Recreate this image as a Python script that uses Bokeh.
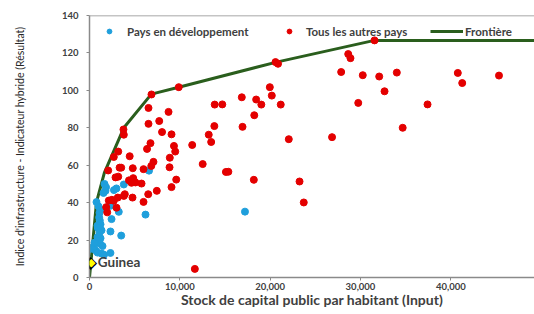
from bokeh.plotting import figure
from bokeh.models import (Range1d, FixedTicker, NumeralTickFormatter,
                          Legend, LegendItem, Span, Label)
from bokeh.embed import file_html
from bokeh.resources import INLINE

# ---- data ----
blue_x = [6590, 3800, 1660, 1830, 1770, 1550, 2710, 2980, 775, 1220, 1110, 2320, 3240, 6200,
          1070, 1140, 2440, 1220, 1330, 2320, 3510, 890, 1220, 1050, 1160, 1440, 110, 660,
          890, 1330, 1610, 2320, 17210, 440, 550, 890, 920, 1110, 1000]
blue_y = [57.1, 49.7, 50.0, 48.2, 46.3, 45.2, 46.7, 47.6, 40.3, 36.2, 34.6, 38.3, 35.1, 33.6,
          32.1, 30.5, 31.2, 28.4, 25.2, 24.6, 22.4, 21.6, 21.0, 19.7, 18.1, 16.8, 15.3, 14.6,
          13.3, 12.8, 12.2, 13.1, 35.2, 16.5, 18.6, 27.7, 26.5, 24.1, 38.0]

red_x = [31550, 28640, 28890, 20590, 20870, 27860, 30250, 32070, 34020, 40770, 41260, 45330,
         32660, 29750, 37420, 34670, 22060, 26850, 23250, 23720, 19960, 20180, 21170, 16860,
         18450, 19020, 13860, 14700, 9880, 6860, 8750, 6530, 7720, 6530, 18240, 13820, 16940,
         8030, 9080, 13200, 13470, 3760, 3800, 6750, 9350, 9490, 11370, 6370, 8890, 12530,
         15100, 15370, 18190, 9600, 9080, 11660, 3180, 4450, 2690, 7080, 6840, 2070, 3330,
         3510, 4790, 5980, 8860, 2880, 3180, 4840, 4370, 4650, 5090, 5760, 6500, 7450, 5980,
         4760, 3800, 3910, 3130, 2470, 2690, 2140, 1850, 1960, 2990]
red_y = [126.7, 119.4, 117.2, 115.1, 114.2, 109.8, 108.1, 107.4, 109.5, 109.3, 103.9, 107.9,
         99.5, 93.3, 92.5, 80.0, 73.9, 75.0, 51.3, 40.1, 101.7, 97.2, 92.4, 96.3,
         95.1, 92.4, 92.4, 92.5, 101.7, 97.8, 88.5, 90.6, 83.6, 82.1, 86.7, 80.9, 80.5,
         77.7, 76.5, 76.3, 72.4, 79.1, 76.3, 71.8, 70.3, 67.3, 70.8, 68.7, 64.0, 60.6,
         56.4, 56.5, 52.2, 52.3, 48.3, 4.6, 67.3, 64.8, 64.4, 61.8, 59.6, 57.2, 58.7,
         58.7, 58.4, 57.9, 58.9, 53.5, 53.9, 53.1, 51.9, 50.6, 50.8, 50.2, 44.5, 46.3, 40.4,
         42.7, 43.6, 44.5, 42.7, 41.5, 41.0, 41.1, 37.6, 34.8, 37.3]

frontier_x = [0, 775, 1650, 3800, 6850, 9880, 20700, 31550, 50000]
frontier_y = [0, 40.3, 56.0, 80.0, 98.0, 101.7, 115.1, 126.7, 126.7]

guinea_x = 150
guinea_y = 8.5
guinea_label = "Guinea"

x_ticks = [0, 10000, 20000, 30000, 40000]
y_ticks = [0, 20, 40, 60, 80, 100, 120, 140]

series_names = ["Pays en développement", "Tous les autres pays", "Frontière"]

BLUE = "#1f9fdc"
RED = "#e40000"
GREEN = "#2a5e1d"
TXT = "#404040"
AX = "#8a8a8a"
FONT = "Lato"

p = figure(width=534, height=310, output_backend="svg", toolbar_location=None,
           x_range=Range1d(0, 49260), y_range=Range1d(0, 140),
           min_border_left=89, min_border_right=0, min_border_top=15, min_border_bottom=32)
p.outline_line_color = None
p.grid.visible = False
p.background_fill_color = "white"

fr = p.line(frontier_x, frontier_y, line_color=GREEN, line_width=3)
bl = p.scatter(blue_x, blue_y, size=7, fill_color=BLUE, line_color=BLUE)
rd = p.scatter(red_x, red_y, size=7, fill_color=RED, line_color=RED)

# Guinea marker as unclipped annotations (diamond drawn over the axis)
p.add_layout(Label(x=guinea_x, y=guinea_y, text="◆", text_align="center",
                   text_baseline="middle", text_font=FONT, text_font_size="17px",
                   text_color="black"))
p.add_layout(Label(x=guinea_x, y=guinea_y, text="◆", text_align="center",
                   text_baseline="middle", text_font=FONT, text_font_size="11px",
                   text_color="#ffff00"))
p.add_layout(Label(x=guinea_x, y=guinea_y, text=guinea_label, x_offset=7,
                   text_baseline="middle", text_font=FONT, text_font_style="bold",
                   text_font_size="13.5px", text_color=TXT))

top = Span(location=140, dimension="width", line_color=AX, line_width=1.5)
p.add_layout(top)

for ax in (p.xaxis[0], p.yaxis[0]):
    ax.axis_line_color = AX
    ax.axis_line_width = 1.5
    ax.major_tick_line_color = AX
    ax.major_tick_in = 0
    ax.major_tick_out = 3
    ax.minor_tick_line_color = None
    ax.major_label_text_font = FONT
    ax.major_label_text_font_style = "bold"
    ax.major_label_text_font_size = "9.5px"
    ax.major_label_text_color = TXT
    ax.axis_label_text_font = FONT
    ax.axis_label_text_color = TXT

p.xaxis.ticker = FixedTicker(ticks=x_ticks)
p.yaxis.ticker = FixedTicker(ticks=y_ticks)
p.xaxis.formatter = NumeralTickFormatter(format="0,0")
p.xaxis.axis_label = "Stock de capital public par habitant (Input)"
p.xaxis.axis_label_text_font_style = "bold"
p.xaxis.axis_label_text_font_size = "14px"
p.xaxis.major_label_standoff = 2
p.xaxis.axis_label_standoff = -2
p.yaxis.axis_label = "Indice d'infrastructure - Indicateur hybride (Résultat)"
p.yaxis.axis_label_text_font_style = "normal"
p.yaxis.axis_label_text_font_size = "10.5px"
p.yaxis.axis_label_text_color = "#262626"
p.yaxis.major_label_standoff = 8
p.yaxis.axis_label_standoff = 33

def add_legend(renderer, label, x, standoff, gw):
    lg = Legend(items=[LegendItem(label=label, renderers=[renderer])],
                location=(x, 239), orientation="horizontal",
                padding=0, margin=0, spacing=0, border_line_color=None,
                background_fill_alpha=0, glyph_width=gw, glyph_height=14,
                label_height=14, label_standoff=standoff,
                label_text_font=FONT, label_text_font_style="bold",
                label_text_font_size="11.5px", label_text_color=TXT)
    p.add_layout(lg)

add_legend(bl, series_names[0], 14, 12, 12)
add_legend(rd, series_names[1], 194, 11, 12)
add_legend(fr, series_names[2], 341, 2, 33)

open("out.html", "w").write(file_html(p, INLINE))
